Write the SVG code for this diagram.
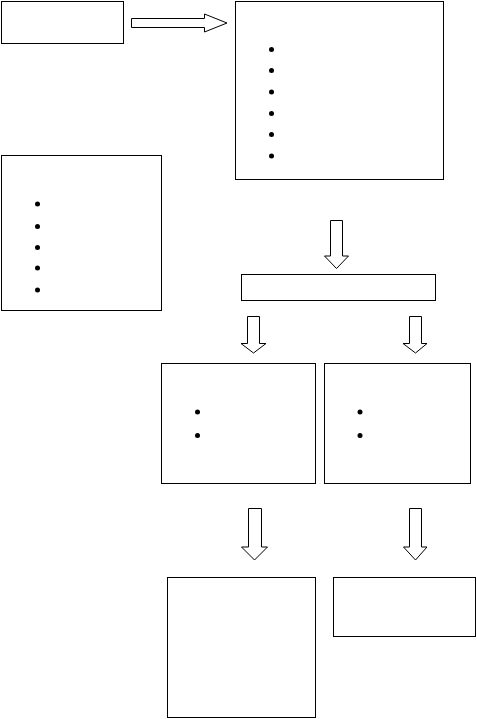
<svg xmlns="http://www.w3.org/2000/svg" width="477" height="719" viewBox="0 0 477 719">
<style>
.box{fill:#fff;stroke:#000;stroke-width:1}
.arr{fill:#fff;stroke:#000;stroke-width:1;stroke-linejoin:miter}
.dot{fill:#000}
</style>
<rect width="477" height="719" fill="#fff"/>
<g id="nodeA"><rect class="box" x="1.5" y="1.5" width="122" height="42"/></g>
<g id="nodeB"><rect class="box" x="235.5" y="1.5" width="208" height="178"/>
<circle class="dot" cx="271.5" cy="49.5" r="2.5"/><circle class="dot" cx="271.5" cy="70.5" r="2.5"/><circle class="dot" cx="271.5" cy="92" r="2.5"/><circle class="dot" cx="271.5" cy="113.5" r="2.5"/><circle class="dot" cx="271.5" cy="134.5" r="2.5"/><circle class="dot" cx="271.5" cy="156" r="2.5"/></g>
<g id="nodeC"><rect class="box" x="1.5" y="155.5" width="160" height="155"/>
<circle class="dot" cx="37.5" cy="204" r="2.5"/><circle class="dot" cx="37.5" cy="226.5" r="2.5"/><circle class="dot" cx="37.5" cy="247.5" r="2.5"/><circle class="dot" cx="37.5" cy="268" r="2.5"/><circle class="dot" cx="37.5" cy="290" r="2.5"/></g>
<g id="nodeD"><rect class="box" x="241.5" y="274.5" width="194" height="26"/></g>
<g id="nodeE"><rect class="box" x="161.5" y="363.5" width="154" height="120"/>
<circle class="dot" cx="197.5" cy="412" r="2.5"/><circle class="dot" cx="197.5" cy="435.5" r="2.5"/></g>
<g id="nodeF"><rect class="box" x="324.5" y="363.5" width="146" height="120"/>
<circle class="dot" cx="360" cy="412" r="2.5"/><circle class="dot" cx="360" cy="435.5" r="2.5"/></g>
<g id="nodeG"><rect class="box" x="167.5" y="577.5" width="148" height="140"/></g>
<g id="nodeH"><rect class="box" x="333.5" y="577.5" width="142" height="59"/></g>
<g id="connectors">
<polygon class="arr" points="131.5,18.5 204.5,18.5 204.5,14 227,23 204.5,32 204.5,27.5 131.5,27.5"/>
<polygon class="arr" points="330.5,220.5 342.5,220.5 342.5,256 348.5,256 336.5,268.5 324.5,256 330.5,256"/>
<polygon class="arr" points="247.5,316.5 259.5,316.5 259.5,343.5 266,343.5 253.5,353 241,343.5 247.5,343.5"/>
<polygon class="arr" points="409.5,316.5 421.5,316.5 421.5,343.5 427,343.5 415.5,353 403,343.5 409.5,343.5"/>
<polygon class="arr" points="248.5,508.5 261.5,508.5 261.5,547 267.5,547 254.5,560 241.5,547 248.5,547"/>
<polygon class="arr" points="409.5,508.5 421.5,508.5 421.5,547 427,547 415.5,560 403.5,547 409.5,547"/>
</g>
</svg>
